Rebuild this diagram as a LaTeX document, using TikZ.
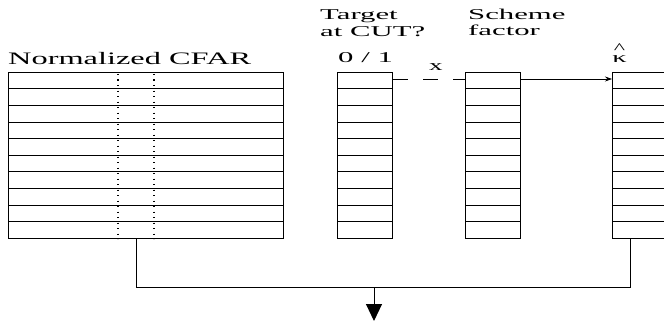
\documentclass[tikz,border=0pt]{standalone}
\usepackage{fontspec}
\setmainfont{Liberation Serif}
\usetikzlibrary{arrows.meta}
\tikzset{
  lbl/.style={anchor=base west, inner sep=0pt, font=\fontsize{15}{18}\selectfont},
  regbox/.style={draw, line width=1pt, anchor=north west, inner sep=0pt, minimum height=166pt},
  rowline/.style={line width=0.6pt},
  conn/.style={line width=1pt},
  dotcol/.style={line width=1.1pt, dash pattern=on 1.1pt off 4.4pt},
}
\newcommand{\wide}[1]{\scalebox{2.05}[1]{#1}}
\begin{document}
\begin{tikzpicture}[x=1pt,y=-1pt]
\useasboundingbox (0,0) rectangle (664,321);
\clip (0,0) rectangle (664,321);
% boxes
\node[regbox, minimum width=275pt] (box1) at (8,72) {};
\node[regbox, minimum width=55pt] (box2) at (337,72) {};
\node[regbox, minimum width=55pt] (box3) at (465,72) {};
\node[regbox, minimum width=55pt] (box4) at (612,72) {};
\foreach \b in {box1,box2,box3,box4}{
  \foreach \i in {1,...,9}{
    \draw[rowline] ([yshift=-16.6*\i pt]\b.north west) -- ([yshift=-16.6*\i pt]\b.north east);
  }
}
% dotted columns
\draw[dotcol] ([xshift=110pt,yshift=-2pt]box1.north west) -- ([xshift=110pt]box1.south west);
\draw[dotcol] ([xshift=146pt,yshift=-2pt]box1.north west) -- ([xshift=146pt]box1.south west);
% labels
\node[lbl, font=\fontsize{17.5}{20}\selectfont] (lcfar) at (8,64) {\scalebox{1.85}[1]{Normalized CFAR}};
\node[lbl] (ltarget) at (320,20) {\wide{Target}};
\node[lbl] (lcut) at (320,36.5) {\wide{at CUT?}};
\node[lbl] (l01) at (338,63) {\wide{0 / 1}};
\node[lbl] (lscheme) at (468,20) {\wide{Scheme}};
\node[lbl] (lfactor) at (468,36) {\wide{factor}};
\node[lbl] (lx) at (429,70.5) {\scalebox{1.8}[1]{x}};
\node[inner sep=0pt, anchor=south, align=center, font=\fontsize{15}{9}\selectfont] (lkappa) at (619.5,62.5) {\scalebox{1.6}[1]{\^{}}\\\scalebox{1.9}[1]{κ}};
% connectors
\coordinate (d1) at ([yshift=-7.3pt]box2.north east);
\coordinate (d2) at ([yshift=-7.3pt]box3.north west);
\draw[line width=0.8pt, dash pattern=on 15pt off 15pt] (d1) -- (d2);
\coordinate (a1) at ([yshift=-7pt]box3.north east);
\coordinate (a2) at ([yshift=-7pt]box4.north west);
\draw[line width=0.7pt, -{Stealth[length=7pt,width=5pt]}] (a1) -- (a2);
\coordinate (j1) at (box1.south -| 136,0);
\coordinate (j2) at (136,287);
\coordinate (j3) at (630,287);
\coordinate (j4) at (box4.south -| 630,0);
\draw[conn] (j1) -- (j2) -- (j3) -- (j4);
\coordinate (o1) at (374,287);
\coordinate (o2) at (374,321);
\draw[conn, -{Triangle[length=17pt,width=16pt]}] (o1) -- (o2);
\end{tikzpicture}
\end{document}
